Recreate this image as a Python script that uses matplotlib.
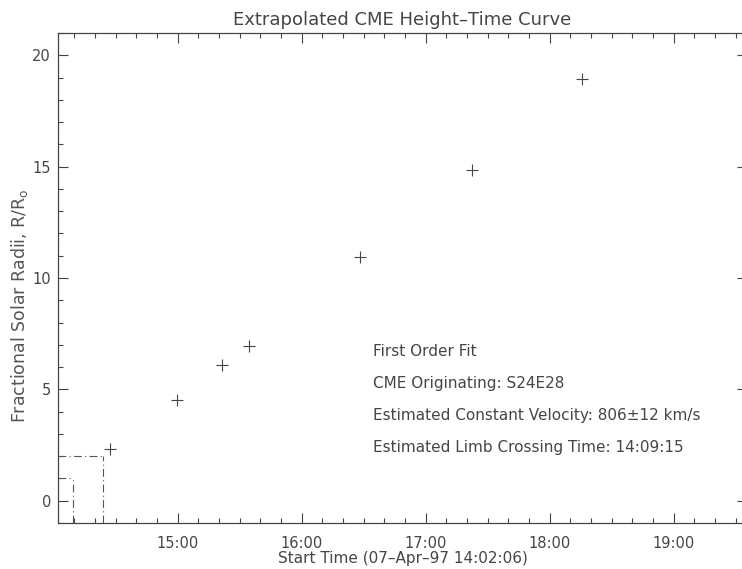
import numpy as np
import matplotlib
matplotlib.use('Agg')
import matplotlib.pyplot as plt
from matplotlib.ticker import MultipleLocator, FuncFormatter

# measured points (time of day, height in solar radii)
obs_times = ['14:27:05', '14:59:40', '15:21:26', '15:34:42', '16:28:24', '17:22:16', '18:15:50']
obs_heights = [2.32, 4.51, 6.08, 6.93, 10.94, 14.83, 18.93]

start_time = '14:02:06'
end_time = '19:35:30'
limb_time = '14:09:15'
r2_time = '14:23:38'
y_range = [-1, 21]

info_lines = ['First Order Fit',
              'CME Originating: S24E28',
              'Estimated Constant Velocity: 806\u00b112 km/s',
              'Estimated Limb Crossing Time: 14:09:15']


def to_hours(s):
    h, m, sec = [int(v) for v in s.split(':')]
    return h + m / 60.0 + sec / 3600.0


def hhmm(x, pos):
    tot = int(round(x * 60))
    return f"{tot // 60:02d}:{tot % 60:02d}"


ink = '#454545'
plt.rcParams['font.family'] = ['DejaVu Sans']
plt.rcParams['font.size'] = 10

fig = plt.figure(figsize=(7.42, 5.69), dpi=100)
ax = fig.add_axes([58 / 742, 46 / 569, 689 / 742, 490 / 569])

t = np.array([to_hours(s) for s in obs_times])
ax.plot(t, obs_heights, linestyle='none', marker='+', markersize=9,
        markeredgewidth=0.8, color=ink)

x0, x1 = to_hours(start_time), to_hours(end_time)
tl, t2 = to_hours(limb_time), to_hours(r2_time)
dd = (0, (7, 3, 1, 3))
for tt, rr in [(tl, 1), (t2, 2)]:
    ax.plot([x0, tt], [rr, rr], color='#555555', lw=0.8, linestyle=dd)
    ax.plot([tt, tt], [y_range[0], rr], color='#555555', lw=0.8, linestyle=dd)

ax.set_xlim(x0, x1)
ax.set_ylim(*y_range)

ax.xaxis.set_major_locator(MultipleLocator(1))
ax.xaxis.set_minor_locator(MultipleLocator(1 / 6))
ax.xaxis.set_major_formatter(FuncFormatter(hhmm))
ax.yaxis.set_major_locator(MultipleLocator(5))
ax.yaxis.set_minor_locator(MultipleLocator(1))

ax.tick_params(which='both', direction='in', top=True, right=True,
               color=ink, labelcolor=ink, width=0.8, labelsize=10.5)
ax.tick_params(axis='x', pad=9)
ax.tick_params(axis='y', pad=5)
ax.tick_params(which='major', length=7.5)
ax.tick_params(which='minor', length=3.5)
for sp in ax.spines.values():
    sp.set_color(ink)
    sp.set_linewidth(0.9)

ax.set_title('Extrapolated CME Height\u2013Time Curve', color=ink, fontsize=13, pad=6)
ax.set_xlabel('Start Time (07\u2013Apr\u201397 14:02:06)', color=ink, fontsize=11, labelpad=0)
ax.set_ylabel(r'Fractional Solar Radii, R/R$_\mathregular{o}$', color='#555555', fontsize=12.5)
ax.yaxis.set_label_coords(-0.040, 0.443)

for i, line in enumerate(info_lines):
    ax.text(0.457, 0.351 - i * 0.0655, line, transform=ax.transAxes,
            color=ink, fontsize=11, va='center', ha='left')

fig.savefig('out.png', dpi=100, facecolor='white')
